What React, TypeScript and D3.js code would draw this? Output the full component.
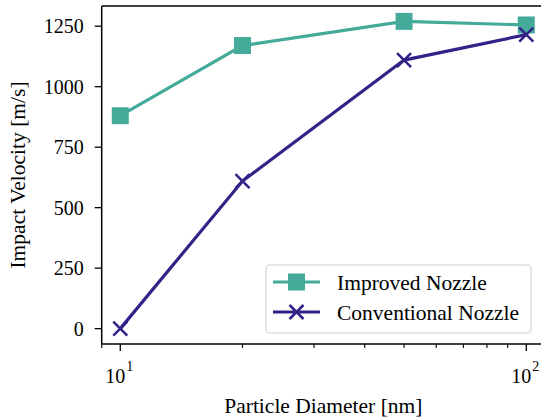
import * as d3 from 'd3';
import React from 'react';

const diameters = [10, 20, 50, 100];
const improved = [880, 1170, 1270, 1255];
const conventional = [0, 610, 1110, 1215];
const yTicks = [0, 250, 500, 750, 1000, 1250];
const xMajor = [10, 100];
const xMinor = [9, 20, 30, 40, 50, 60, 70, 80, 90];

const TEAL = '#44aa99';
const INDIGO = '#332288';
const FONT = "'Liberation Serif', 'Times New Roman', Times, 'DejaVu Serif', serif";

const W = 541;
const H = 420;
const plot = { left: 101.7, right: 545, top: 6, bottom: 344 };

export default function App() {
  const x = d3.scaleLog().domain([9, 111.2]).range([plot.left, plot.right]);
  const y = d3.scaleLinear().domain([-63.5, 1333.5]).range([plot.bottom, plot.top]);

  const line = d3.line<[number, number]>()
    .x(d => x(d[0]))
    .y(d => y(d[1]));

  const impPts: [number, number][] = diameters.map((d, i) => [d, improved[i]]);
  const conPts: [number, number][] = diameters.map((d, i) => [d, conventional[i]]);

  const sq = 17;
  const xs = 7;
  const square = (cx: number, cy: number, key: string) => (
    <rect key={key} x={cx - sq / 2} y={cy - sq / 2} width={sq} height={sq} fill={TEAL} />
  );
  const cross = (cx: number, cy: number, key: string) => (
    <path key={key} d={`M${cx - xs},${cy - xs}L${cx + xs},${cy + xs}M${cx - xs},${cy + xs}L${cx + xs},${cy - xs}`}
      stroke={INDIGO} strokeWidth={2.5} fill="none" />
  );

  const leg = { x: 266, y: 265, w: 265, h: 68 };
  const ts = { fontFamily: FONT, fontSize: 20 };
  const ls = { fontFamily: FONT, fontSize: 21.5 };

  return (
    <svg width={W} height={H} style={{ position: 'absolute', left: 0, top: 0, background: '#fff', fontFamily: FONT }}>
      <rect width={W} height={H} fill="#fff" />
      <defs>
        <clipPath id="plotclip">
          <rect x={plot.left} y={plot.top} width={plot.right - plot.left} height={plot.bottom - plot.top} />
        </clipPath>
      </defs>

      {/* series */}
      <g clipPath="url(#plotclip)">
        <path d={line(impPts) || ''} stroke={TEAL} strokeWidth={3.2} fill="none" />
        {impPts.map((p, i) => square(x(p[0]), y(p[1]), 's' + i))}
        <path d={line(conPts) || ''} stroke={INDIGO} strokeWidth={3.2} fill="none" />
        {conPts.map((p, i) => cross(x(p[0]), y(p[1]), 'c' + i))}
      </g>

      {/* spines */}
      <g stroke="#000" strokeWidth={1.5} fill="none">
        <line x1={plot.left} x2={plot.right} y1={plot.top} y2={plot.top} />
        <line x1={plot.left} x2={plot.right} y1={plot.bottom} y2={plot.bottom} />
        <line x1={plot.left} x2={plot.left} y1={plot.top} y2={plot.bottom} />
        <line x1={plot.right} x2={plot.right} y1={plot.top} y2={plot.bottom} />
      </g>

      {/* y axis */}
      {yTicks.map(t => (
        <g key={'y' + t}>
          <line x1={plot.left - 7} x2={plot.left} y1={y(t)} y2={y(t)} stroke="#000" strokeWidth={1.3} />
          <text x={plot.left - 18} y={y(t)} dy="0.35em" textAnchor="end" style={ts}>{t}</text>
        </g>
      ))}

      {/* x axis */}
      {xMinor.map(t => (
        <line key={'m' + t} x1={x(t)} x2={x(t)} y1={plot.bottom} y2={plot.bottom + 4} stroke="#000" strokeWidth={1.1} />
      ))}
      {xMajor.map(t => (
        <g key={'x' + t}>
          <line x1={x(t)} x2={x(t)} y1={plot.bottom} y2={plot.bottom + 7} stroke="#000" strokeWidth={1.3} />
          <text x={x(t) + 5} y={383} textAnchor="end" style={ts}>10</text>
          <text x={x(t) + 6} y={371} style={{ fontFamily: FONT, fontSize: 14 }}>{Math.round(Math.log10(t))}</text>
        </g>
      ))}

      {/* axis labels */}
      <text x={(plot.left + plot.right) / 2} y={413} textAnchor="middle" style={ls}>Particle Diameter [nm]</text>
      <text transform={`translate(25,${(plot.top + plot.bottom) / 2}) rotate(-90)`} textAnchor="middle" style={ls}>
        Impact Velocity [m/s]
      </text>

      {/* legend */}
      <g>
        <rect x={leg.x} y={leg.y} width={leg.w} height={leg.h} rx={4} fill="#fff" fillOpacity={0.8}
          stroke="#d0d0d0" strokeWidth={1.2} />
        <line x1={273} x2={320} y1={282} y2={282} stroke={TEAL} strokeWidth={3.2} />
        {square(296.5, 282, 'ls')}
        <text x={337} y={282} dy="0.35em" style={ls}>Improved Nozzle</text>
        <line x1={273} x2={320} y1={312} y2={312} stroke={INDIGO} strokeWidth={3.2} />
        {cross(296.5, 312, 'lc')}
        <text x={337} y={312} dy="0.35em" style={ls}>Conventional Nozzle</text>
      </g>
    </svg>
  );
}
